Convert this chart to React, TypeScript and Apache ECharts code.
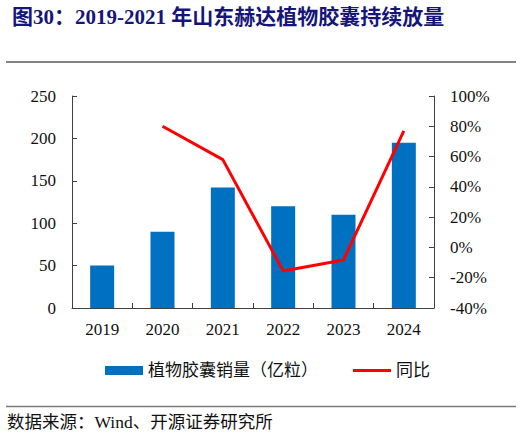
import React, { useEffect, useRef } from "react";
import * as echarts from "echarts";

const categories = ["2019", "2020", "2021", "2022", "2023", "2024"];
const salesValues = [50, 90, 142, 120, 110, 195];
const yoyValues: (number | null)[] = [null, 80, 58, -15.5, -8.3, 77];
const barName = "植物胶囊销量（亿粒）";
const lineName = "同比";
const titleText = "图30：2019-2021 年山东赫达植物胶囊持续放量";
const sourceText = "数据来源：Wind、开源证券研究所";

const serif = "'Liberation Serif', 'Times New Roman', 'Noto Sans CJK SC', serif";

export default function App() {
  const ref = useRef<HTMLDivElement>(null);
  useEffect(() => {
    if (!ref.current) return;
    const chart = echarts.init(ref.current, undefined, { renderer: "svg" });
    chart.setOption({
      animation: false,
      backgroundColor: "#ffffff",
      title: {
        text: titleText,
        left: 7,
        top: 1,
        textStyle: {
          fontFamily: serif,
          fontWeight: "bold",
          fontSize: 21,
          color: "#15157a",
        },
      },
      graphic: [
        {
          type: "line",
          shape: { x1: 6, y1: 62, x2: 516, y2: 62 },
          style: { stroke: "#5a5a5a", lineWidth: 1.5 },
        },
        {
          type: "line",
          shape: { x1: 6, y1: 406.5, x2: 516, y2: 406.5 },
          style: { stroke: "#7a7a7a", lineWidth: 1.5 },
        },
        {
          type: "text",
          left: 7,
          top: 413,
          style: {
            text: sourceText,
            font: `17.5px ${serif}`,
            fill: "#111111",
          },
        },
      ],
      legend: {
        left: 100,
        top: 357,
        itemWidth: 38,
        itemHeight: 9,
        itemGap: 35,
        textStyle: { fontFamily: serif, fontSize: 17, color: "#111111" },
        data: [
          { name: barName, icon: "rect" },
          { name: lineName, icon: "path://M0,0L40,0L40,3L0,3Z" },
        ],
      },
      grid: { left: 72, right: 88, top: 96, height: 212, containLabel: false },
      xAxis: {
        type: "category",
        data: categories,
        boundaryGap: true,
        axisLine: { lineStyle: { color: "#404040", width: 1 } },
        axisTick: { show: true, inside: true, length: 5, alignWithLabel: false, lineStyle: { color: "#404040" } },
        axisLabel: { fontFamily: serif, fontSize: 17, color: "#111111", margin: 13 },
      },
      yAxis: [
        {
          type: "value",
          min: 0,
          max: 250,
          interval: 50,
          splitLine: { show: false },
          axisLine: { show: true, lineStyle: { color: "#404040", width: 1 } },
          axisTick: { show: true, inside: true, length: 5, lineStyle: { color: "#404040" } },
          axisLabel: { fontFamily: serif, fontSize: 17, color: "#111111", margin: 16 },
        },
        {
          type: "value",
          min: -40,
          max: 100,
          interval: 20,
          position: "right",
          splitLine: { show: false },
          axisLine: { show: true, lineStyle: { color: "#404040", width: 1 } },
          axisTick: { show: true, inside: true, length: 5, lineStyle: { color: "#404040" } },
          axisLabel: { fontFamily: serif, fontSize: 17, color: "#111111", margin: 16, formatter: "{value}%" },
        },
      ],
      series: [
        {
          name: barName,
          type: "bar",
          data: salesValues,
          barWidth: 24,
          itemStyle: { color: "#0070C0" },
          yAxisIndex: 0,
        },
        {
          name: lineName,
          type: "line",
          data: yoyValues,
          yAxisIndex: 1,
          symbol: "none",
          lineStyle: { color: "#FF0000", width: 3 },
          itemStyle: { color: "#FF0000" },
        },
      ],
    });
    return () => chart.dispose();
  }, []);
  return (
    <div style={{ position: "fixed", left: 0, top: 0, width: 522, height: 436 }}>
      <div ref={ref} style={{ width: 522, height: 436 }} />
    </div>
  );
}
